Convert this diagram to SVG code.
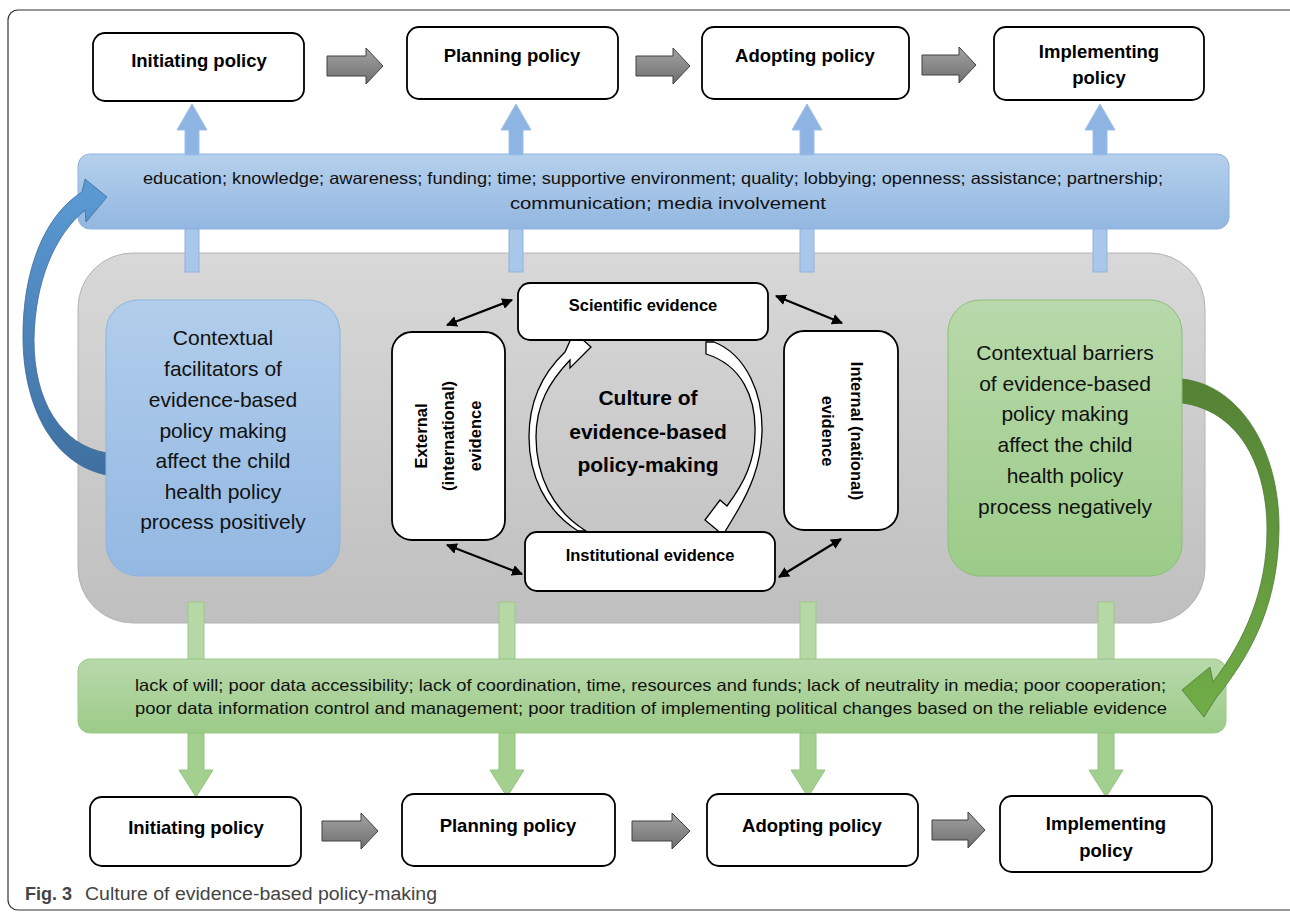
<svg xmlns="http://www.w3.org/2000/svg" width="1290" height="913" viewBox="0 0 1290 913">
<defs>
<linearGradient id="gBand" x1="0" y1="0" x2="0" y2="1"><stop offset="0" stop-color="#b5d0ec"/><stop offset="1" stop-color="#93b7e1"/></linearGradient>
<linearGradient id="gGBand" x1="0" y1="0" x2="0" y2="1"><stop offset="0" stop-color="#b8d9ab"/><stop offset="1" stop-color="#9ccb88"/></linearGradient>
<linearGradient id="gBlueBox" x1="0" y1="0" x2="0" y2="1"><stop offset="0" stop-color="#b1cdeb"/><stop offset="1" stop-color="#93b8e2"/></linearGradient>
<linearGradient id="gGreenBox" x1="0" y1="0" x2="0" y2="1"><stop offset="0" stop-color="#b8d9ab"/><stop offset="1" stop-color="#9ccb88"/></linearGradient>
<linearGradient id="gGray" x1="0" y1="0" x2="0" y2="1"><stop offset="0" stop-color="#d8d8d8"/><stop offset="1" stop-color="#bfbfbf"/></linearGradient>
<linearGradient id="gArrow" x1="0" y1="0" x2="0" y2="1"><stop offset="0" stop-color="#a3a3a3"/><stop offset="1" stop-color="#6f6f6f"/></linearGradient>
<linearGradient id="gBlueCurve" x1="0" y1="0" x2="0" y2="1"><stop offset="0" stop-color="#5b9bd5"/><stop offset="1" stop-color="#3f6fa0"/></linearGradient>
<linearGradient id="gGreenCurve" x1="0" y1="0" x2="0" y2="1"><stop offset="0" stop-color="#548235"/><stop offset="1" stop-color="#70ad47"/></linearGradient>
<marker id="ah" viewBox="0 0 10 10" refX="9" refY="5" markerWidth="5" markerHeight="5" orient="auto-start-reverse"><path d="M0,0 L10,5 L0,10 z" fill="#000"/></marker>
<style>
.box{fill:#fff;stroke:#000;stroke-width:1.8}
.bt{font-family:"Liberation Sans",Arial,sans-serif;font-weight:bold;font-size:18.5px;fill:#000;text-anchor:middle}
.et{font-family:"Liberation Sans",Arial,sans-serif;font-weight:bold;font-size:16.5px;fill:#000;text-anchor:middle}
.ct{font-family:"Liberation Sans",Arial,sans-serif;font-size:21px;fill:#111;text-anchor:middle}
.cc{font-family:"Liberation Sans",Arial,sans-serif;font-weight:bold;font-size:21px;fill:#000;text-anchor:middle}
.band{font-family:"Liberation Sans",Arial,sans-serif;font-size:16.5px;fill:#111}
.garr{fill:url(#gArrow);stroke:#404040;stroke-width:1}
.barr{fill:#8eb4e3;stroke:#9dbfe8;stroke-width:1}
.bsh{fill:#a9c7ea;stroke:#8fb2de;stroke-width:1}
.gdarr{fill:#a3cf8f;stroke:#93c47e;stroke-width:1}
.gsh{fill:#b6d8a7;stroke:#9dc88a;stroke-width:1}
.dbl{stroke:#000;stroke-width:2.2;fill:none;marker-start:url(#ah);marker-end:url(#ah)}
.warr{fill:#fff;stroke:#000;stroke-width:1.3;stroke-linejoin:miter}
.cap{font-family:"Liberation Sans",Arial,sans-serif;font-size:18px;fill:#444}
</style>
</defs>
<rect x="8" y="10" width="1300" height="900" rx="10" fill="#fff" stroke="#333" stroke-width="1.2"/>

<g id="gray-panel"><rect x="78" y="253" width="1127" height="370" rx="55" fill="url(#gGray)" stroke="#b4b4b4" stroke-width="1"/></g>

<g id="blue-band"><rect x="78" y="154" width="1151" height="75" rx="12" fill="url(#gBand)" stroke="#8fb3de" stroke-width="1"/>
<text class="band" x="143" y="184" textLength="1020" lengthAdjust="spacingAndGlyphs">education; knowledge; awareness; funding; time; supportive environment; quality; lobbying; openness; assistance; partnership;</text>
<text class="band" x="510" y="209" textLength="316" lengthAdjust="spacingAndGlyphs">communication; media involvement</text></g>

<g id="green-band"><rect x="78" y="659" width="1148" height="74" rx="12" fill="url(#gGBand)" stroke="#9cc88a" stroke-width="1"/>
<text class="band" x="135" y="691" textLength="1031" lengthAdjust="spacingAndGlyphs">lack of will; poor data accessibility; lack of coordination, time, resources and funds; lack of neutrality in media; poor cooperation;</text>
<text class="band" x="135" y="714" textLength="1032" lengthAdjust="spacingAndGlyphs">poor data information control and management; poor tradition of implementing political changes based on the reliable evidence</text></g>

<g id="connectors">
<path class="barr" d="M192 104 L207 130 L199 130 L199 155 L185 155 L185 130 L177 130 Z"/>
<path class="barr" d="M516 104 L531 130 L523 130 L523 155 L509 155 L509 130 L501 130 Z"/>
<path class="barr" d="M807 104 L822 130 L814 130 L814 155 L800 155 L800 130 L792 130 Z"/>
<path class="barr" d="M1100 104 L1115 130 L1107 130 L1107 155 L1093 155 L1093 130 L1085 130 Z"/>
<rect class="bsh" x="185" y="229" width="14" height="43"/>
<rect class="bsh" x="509" y="229" width="14" height="43"/>
<rect class="bsh" x="800" y="229" width="14" height="43"/>
<rect class="bsh" x="1093" y="229" width="14" height="43"/>
<rect class="gsh" x="188" y="602" width="16" height="57"/>
<rect class="gsh" x="499" y="602" width="16" height="57"/>
<rect class="gsh" x="800" y="602" width="16" height="57"/>
<rect class="gsh" x="1098" y="602" width="16" height="57"/>
<path class="gdarr" d="M188 733 L204 733 L204 770 L213 770 L196 797 L179 770 L188 770 Z"/>
<path class="gdarr" d="M499 733 L515 733 L515 770 L524 770 L507 797 L490 770 L499 770 Z"/>
<path class="gdarr" d="M800 733 L816 733 L816 770 L825 770 L808 797 L791 770 L800 770 Z"/>
<path class="gdarr" d="M1098 733 L1114 733 L1114 770 L1123 770 L1106 797 L1089 770 L1098 770 Z"/>
<path class="garr" d="M327 56 L366 56 L366 48 L383 66 L366 84 L366 76 L327 76 Z"/>
<path class="garr" d="M636 56 L673 56 L673 48 L690 66 L673 84 L673 76 L636 76 Z"/>
<path class="garr" d="M922 55 L959 55 L959 47 L976 65 L959 83 L959 75 L922 75 Z"/>
<path class="garr" d="M322 821 L361 821 L361 813 L378 831 L361 849 L361 841 L322 841 Z"/>
<path class="garr" d="M632 821 L672 821 L672 813 L690 831 L672 849 L672 841 L632 841 Z"/>
<path class="garr" d="M932 820 L968 820 L968 812 L985 830 L968 848 L968 840 L932 840 Z"/>
<line class="dbl" x1="447" y1="325" x2="512" y2="300"/>
<line class="dbl" x1="776" y1="296" x2="842" y2="323"/>
<line class="dbl" x1="447" y1="545" x2="522" y2="574"/>
<line class="dbl" x1="779" y1="577" x2="841" y2="539"/>
<path class="warr" d="M578 531 C545 510 529 475 529 437 C529 400 544 372 565 352 L574 332 L591 347 L570 368 L570 360 C549 382 536 405 536 437 C536 475 552 510 586 531 Z"/>
<path class="warr" d="M706 342 L714 342 C747 355 763 395 762 432 C761 465 750 490 735 515 L723 535 L705 520 L720 500 L727 506 C745 482 755 460 755 432 C756 398 742 365 706 354 Z"/>
<path fill="url(#gBlueCurve)" stroke="#3d6b9a" stroke-width="0.8" d="M107 475 C55 465 24 410 23 340 C22 270 45 215 82 192 L85 179 L107 197 L86 222 L85 210 C55 235 35 280 34 340 C34 400 60 445 107 453 Z"/>
<path fill="url(#gGreenCurve)" stroke="#4f7a33" stroke-width="0.8" d="M1182 379 C1240 385 1280 450 1279 530 C1278 600 1255 650 1216 698 L1204 717 L1182 690 L1210 667 L1213 682 C1245 640 1267 590 1267 530 C1267 460 1235 410 1182 403 Z"/>
</g>

<g id="top-initiating"><rect class="box" x="93" y="33" width="211" height="68" rx="12"/><text class="bt" x="199" y="67">Initiating policy</text></g>
<g id="top-planning"><rect class="box" x="407" y="27" width="211" height="72" rx="12"/><text class="bt" x="512" y="62">Planning policy</text></g>
<g id="top-adopting"><rect class="box" x="702" y="27" width="207" height="72" rx="12"/><text class="bt" x="805" y="62">Adopting policy</text></g>
<g id="top-implementing"><rect class="box" x="994" y="27" width="210" height="73" rx="12"/><text class="bt" x="1099" y="58">Implementing</text><text class="bt" x="1099" y="84">policy</text></g>

<g id="facilitators"><rect x="106" y="300" width="234" height="276" rx="32" fill="url(#gBlueBox)" stroke="#8fb3de" stroke-width="1"/>
<text class="ct" x="223" y="345">Contextual</text>
<text class="ct" x="223" y="376">facilitators of</text>
<text class="ct" x="223" y="407">evidence-based</text>
<text class="ct" x="223" y="438">policy making</text>
<text class="ct" x="223" y="468">affect the child</text>
<text class="ct" x="223" y="499">health policy</text>
<text class="ct" x="223" y="529">process positively</text></g>

<g id="barriers"><rect x="948" y="300" width="234" height="276" rx="32" fill="url(#gGreenBox)" stroke="#8cbf78" stroke-width="1"/>
<text class="ct" x="1065" y="360">Contextual barriers</text>
<text class="ct" x="1065" y="391">of evidence-based</text>
<text class="ct" x="1065" y="421">policy making</text>
<text class="ct" x="1065" y="452">affect the child</text>
<text class="ct" x="1065" y="483">health policy</text>
<text class="ct" x="1065" y="514">process negatively</text></g>

<g id="scientific"><rect class="box" x="518" y="283" width="250" height="57" rx="12"/><text class="et" x="643" y="311">Scientific evidence</text></g>
<g id="institutional"><rect class="box" x="525" y="532" width="250" height="59" rx="12"/><text class="et" x="650" y="561">Institutional evidence</text></g>
<g id="external"><rect class="box" x="392" y="332" width="113" height="208" rx="20"/>
<g transform="translate(448,436) rotate(-90)"><text class="et" x="0" y="-21">External</text><text class="et" x="0" y="6">(international)</text><text class="et" x="0" y="33">evidence</text></g></g>
<g id="internal"><rect class="box" x="784" y="331" width="114" height="199" rx="20"/>
<g transform="translate(842,431) rotate(90)"><text class="et" x="0" y="-9">Internal (national)</text><text class="et" x="0" y="20">evidence</text></g></g>

<g id="center"><text class="cc" x="648" y="405">Culture of</text><text class="cc" x="648" y="439">evidence-based</text><text class="cc" x="648" y="472">policy-making</text></g>

<g id="bottom-initiating"><rect class="box" x="90" y="797" width="211" height="69" rx="12"/><text class="bt" x="196" y="834">Initiating policy</text></g>
<g id="bottom-planning"><rect class="box" x="402" y="794" width="213" height="72" rx="12"/><text class="bt" x="508" y="832">Planning policy</text></g>
<g id="bottom-adopting"><rect class="box" x="707" y="794" width="211" height="72" rx="12"/><text class="bt" x="812" y="832">Adopting policy</text></g>
<g id="bottom-implementing"><rect class="box" x="1000" y="796" width="212" height="76" rx="12"/><text class="bt" x="1106" y="830">Implementing</text><text class="bt" x="1106" y="857">policy</text></g>

<g id="caption"><text class="cap" x="25" y="900" font-weight="bold" fill="#222">Fig. 3</text><text class="cap" x="85" y="900" textLength="352" lengthAdjust="spacingAndGlyphs">Culture of evidence-based policy-making</text></g>
</svg>
